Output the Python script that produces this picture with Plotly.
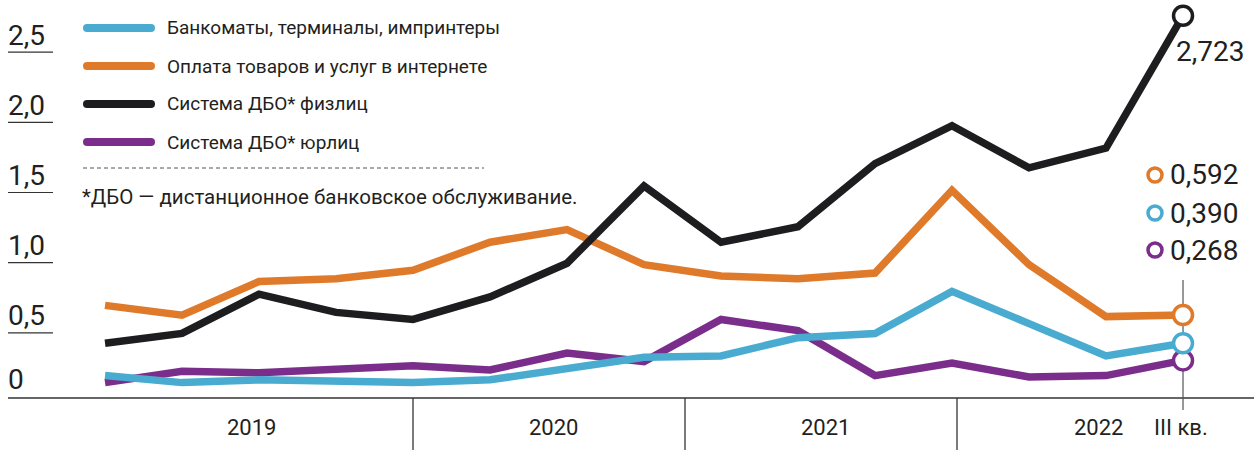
import plotly.graph_objects as go

# ---------------- data ----------------
quarters = ["I кв. 2019", "II кв. 2019", "III кв. 2019", "IV кв. 2019",
            "I кв. 2020", "II кв. 2020", "III кв. 2020", "IV кв. 2020",
            "I кв. 2021", "II кв. 2021", "III кв. 2021", "IV кв. 2021",
            "I кв. 2022", "II кв. 2022", "III кв. 2022"]

series_names = ["Банкоматы, терминалы, импринтеры",
                "Оплата товаров и услуг в интернете",
                "Система ДБО* физлиц",
                "Система ДБО* юрлиц"]

atm = [0.16, 0.11, 0.13, 0.12, 0.11, 0.13, 0.21, 0.29, 0.30, 0.43, 0.46, 0.76, 0.53, 0.30, 0.390]
internet = [0.66, 0.59, 0.83, 0.85, 0.91, 1.11, 1.20, 0.95, 0.87, 0.85, 0.89, 1.48, 0.95, 0.58, 0.592]
retail = [0.39, 0.46, 0.74, 0.61, 0.56, 0.72, 0.96, 1.51, 1.11, 1.22, 1.67, 1.94, 1.64, 1.78, 2.723]
corporate = [0.11, 0.19, 0.18, 0.21, 0.23, 0.20, 0.32, 0.26, 0.56, 0.48, 0.16, 0.25, 0.15, 0.16, 0.268]

y_ticks = [2.5, 2.0, 1.5, 1.0, 0.5]
y_tick_labels = ["2,5", "2,0", "1,5", "1,0", "0,5"]
year_labels = ["2019", "2020", "2021", "2022"]
last_quarter_label = "III кв."
footnote = "*ДБО — дистанционное банковское обслуживание."

# ---------------- style ----------------
W, H = 1254, 450
FONT = "Roboto, 'Liberation Sans', sans-serif"
TEXT = "#231f20"
colors = ["#4aabd0", "#e07a2b", "#1d1d1f", "#7b2d8b"]
series = [atm, internet, retail, corporate]
draw_order = [3, 0, 1, 2]

Y_MIN, Y_MAX = -0.370, 2.835
X_MIN, X_MAX = -1.364, 14.922


def px(x):
    return x / W


def py(y):
    return 1 - y / H


fig = go.Figure()

for i in draw_order:
    fig.add_trace(go.Scatter(
        x=list(range(len(quarters))), y=series[i], mode="lines",
        name=series_names[i], text=quarters,
        line=dict(color=colors[i], width=7.5),
        hovertemplate="%{text}: %{y}<extra></extra>",
        showlegend=False))

for i in draw_order:
    fig.add_trace(go.Scatter(
        x=[len(quarters) - 1], y=[series[i][-1]], mode="markers",
        marker=dict(symbol="circle", size=19, color="white",
                    line=dict(color=colors[i], width=3.5)),
        showlegend=False, hoverinfo="skip"))

shapes = []
annotations = []

# baseline
shapes.append(dict(type="line", xref="paper", yref="y", x0=px(8), x1=1, y0=0, y1=0,
                   line=dict(color="#333333", width=1.6), layer="below"))
# y ticks: short underlines + labels
for v, lab in zip(y_ticks, y_tick_labels):
    shapes.append(dict(type="line", xref="paper", yref="y", x0=px(8), x1=px(53),
                       y0=v - 0.036, y1=v - 0.036,
                       line=dict(color="#333333", width=1.2), layer="below"))
    annotations.append(dict(x=px(6), y=v, xref="paper", yref="y", text=lab,
                            showarrow=False, xanchor="left", yanchor="middle", yshift=12,
                            font=dict(family=FONT, size=28, color=TEXT)))
annotations.append(dict(x=px(6), y=0, xref="paper", yref="y", text="0",
                        showarrow=False, xanchor="left", yanchor="middle", yshift=19,
                        font=dict(family=FONT, size=28, color=TEXT)))

# year separators
for sx in [413, 685, 957]:
    shapes.append(dict(type="line", xref="paper", yref="paper", x0=px(sx), x1=px(sx),
                       y0=py(398), y1=0, line=dict(color="#333333", width=1.3)))
# last quarter tick
shapes.append(dict(type="line", xref="x", yref="paper", x0=len(quarters) - 1, x1=len(quarters) - 1,
                   y0=py(280), y1=py(410), line=dict(color="#555555", width=1.2), layer="below"))

for lab, cx in zip(year_labels, [251, 553, 825, 1098]):
    annotations.append(dict(x=px(cx), y=py(427), xref="paper", yref="paper", text=lab,
                            showarrow=False, xanchor="center", yanchor="middle",
                            font=dict(family=FONT, size=22, color=TEXT)))
annotations.append(dict(x=px(1181), y=py(427), xref="paper", yref="paper",
                        text=last_quarter_label, showarrow=False, xanchor="center",
                        yanchor="middle", font=dict(family=FONT, size=22, color=TEXT)))

# legend (drawn)
for k, ly in enumerate([28, 66, 104, 142]):
    c = colors[k]
    shapes.append(dict(type="line", xref="paper", yref="paper", x0=px(87), x1=px(151),
                       y0=py(ly), y1=py(ly), line=dict(color=c, width=8)))
    for cxp in (87, 151):
        shapes.append(dict(type="circle", xref="paper", yref="paper",
                           x0=px(cxp - 4), x1=px(cxp + 4), y0=py(ly + 4), y1=py(ly - 4),
                           fillcolor=c, line=dict(width=0)))
    annotations.append(dict(x=px(165), y=py(ly), xref="paper", yref="paper",
                            text=series_names[k], showarrow=False, xanchor="left",
                            yanchor="middle", font=dict(family=FONT, size=19, color=TEXT)))

shapes.append(dict(type="line", xref="paper", yref="paper", x0=px(83), x1=px(484),
                   y0=py(168), y1=py(168), line=dict(color="#555555", width=1, dash="4px,3px")))
annotations.append(dict(x=px(80), y=py(197), xref="paper", yref="paper", text=footnote,
                        showarrow=False, xanchor="left", yanchor="middle",
                        font=dict(family=FONT, size=20.5, color=TEXT)))

# end value labels
def fmt(v):
    return f"{v:.3f}".replace(".", ",")

annotations.append(dict(x=px(1174), y=py(52), xref="paper", yref="paper", text=fmt(retail[-1]),
                        showarrow=False, xanchor="left", yanchor="middle",
                        font=dict(family=FONT, size=28, color=TEXT)))
for k, ly in zip([1, 0, 3], [175, 213, 250]):
    shapes.append(dict(type="circle", xref="paper", yref="paper",
                       x0=px(1148), x1=px(1162), y0=py(ly + 7), y1=py(ly - 7),
                       fillcolor="white", line=dict(color=colors[k], width=3.5)))
    annotations.append(dict(x=px(1168), y=py(ly), xref="paper", yref="paper",
                            text=fmt(series[k][-1]), showarrow=False, xanchor="left",
                            yanchor="middle", font=dict(family=FONT, size=28, color=TEXT)))

fig.update_layout(
    width=W, height=H,
    margin=dict(l=0, r=0, t=0, b=0),
    paper_bgcolor="white", plot_bgcolor="white",
    xaxis=dict(visible=False, range=[X_MIN, X_MAX]),
    yaxis=dict(visible=False, range=[Y_MIN, Y_MAX]),
    shapes=shapes, annotations=annotations,
    showlegend=False,
)

fig.write_html("out.html", config={"displayModeBar": False},
               post_script="document.body.style.margin='0';document.body.style.overflow='hidden';")
